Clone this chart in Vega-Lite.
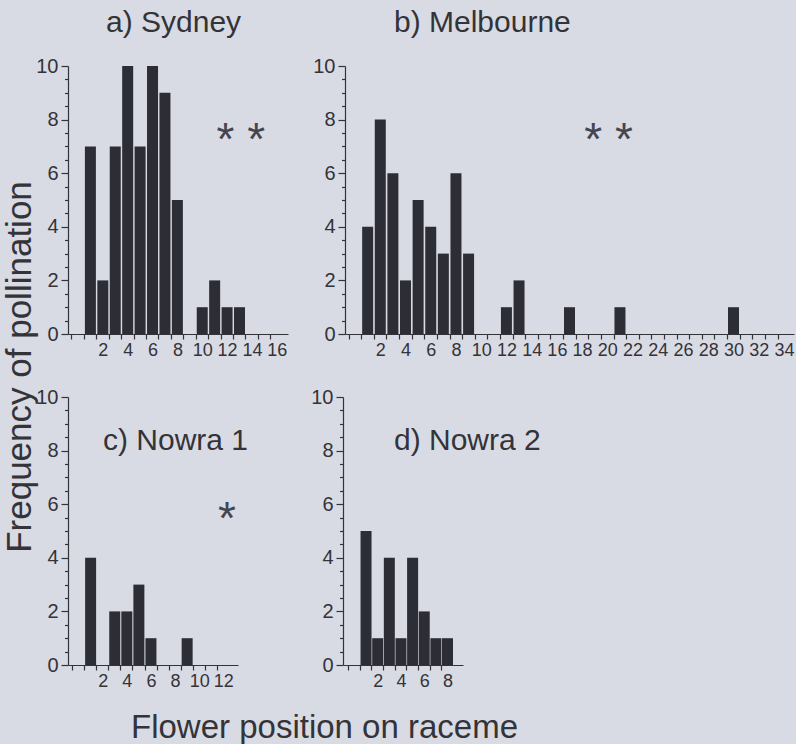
{
  "$schema": "https://vega.github.io/schema/vega-lite/v6.json",
  "background": "#d9dbe4",
  "padding": {"left": 2, "top": 8, "right": 2, "bottom": 4},
  "datasets": {
    "sydney": [
      {"position": 1, "frequency": 7}, {"position": 2, "frequency": 2}, {"position": 3, "frequency": 7},
      {"position": 4, "frequency": 10}, {"position": 5, "frequency": 7}, {"position": 6, "frequency": 10},
      {"position": 7, "frequency": 9}, {"position": 8, "frequency": 5}, {"position": 9, "frequency": 0},
      {"position": 10, "frequency": 1}, {"position": 11, "frequency": 2}, {"position": 12, "frequency": 1},
      {"position": 13, "frequency": 1}
    ],
    "melbourne": [
      {"position": 1, "frequency": 4}, {"position": 2, "frequency": 8}, {"position": 3, "frequency": 6},
      {"position": 4, "frequency": 2}, {"position": 5, "frequency": 5}, {"position": 6, "frequency": 4},
      {"position": 7, "frequency": 3}, {"position": 8, "frequency": 6}, {"position": 9, "frequency": 3},
      {"position": 12, "frequency": 1}, {"position": 13, "frequency": 2}, {"position": 17, "frequency": 1},
      {"position": 21, "frequency": 1}, {"position": 30, "frequency": 1}
    ],
    "nowra1": [
      {"position": 1, "frequency": 4}, {"position": 3, "frequency": 2}, {"position": 4, "frequency": 2},
      {"position": 5, "frequency": 3}, {"position": 6, "frequency": 1}, {"position": 9, "frequency": 1}
    ],
    "nowra2": [
      {"position": 1, "frequency": 5}, {"position": 2, "frequency": 1}, {"position": 3, "frequency": 4},
      {"position": 4, "frequency": 1}, {"position": 5, "frequency": 4}, {"position": 6, "frequency": 2},
      {"position": 7, "frequency": 1}, {"position": 8, "frequency": 1}
    ]
  },
  "config": {
    "font": "Liberation Sans",
    "view": {"stroke": null},
    "axis": {
      "grid": false, "domainColor": "#333338", "tickColor": "#333338", "labelColor": "#333338",
      "titleColor": "#333338", "labelFont": "Liberation Sans", "titleFont": "Liberation Sans",
      "titleFontWeight": "normal", "domainWidth": 1.2, "tickWidth": 1.2,
      "labelOverlap": false
    },
    "title": {"font": "Liberation Sans", "fontSize": 30, "fontWeight": "normal", "color": "#333338", "baseline": "alphabetic", "frame": "group"}
  },
  "title": {"text": "Frequency of pollination", "orient": "left", "anchor": "middle", "frame": "bounds", "fontSize": 35, "offset": -2, "dx": 9},
  "spacing": 28,
  "vconcat": [
    {
      "bounds": "flush",
      "spacing": 57,
      "hconcat": [
        {
          "width": 220, "height": 268,
          "title": {"text": "a) Sydney", "anchor": "start", "dx": 38, "offset": 18},
          "resolve": {"axis": {"x": "independent", "y": "independent"}},
          "layer": [
            {
              "data": {"name": "sydney"},
              "mark": {"type": "bar", "width": 11, "color": "#2d2d36"},
              "encoding": {
                "x": {"field": "position", "type": "quantitative",
                  "scale": {"domain": [-0.4, 16.5], "nice": false, "zero": false},
                  "axis": {"title": null, "orient": "bottom", "values": [0,1,2,3,4,5,6,7,8,9,10,11,12,13,14,15,16],
                    "tickOffset": -6.5, "labelOffset": 6.5, "tickSize": 5, "labelPadding": 2, "labelFontSize": 18,
                    "labelOverlap": false, "labelFlush": false,
                    "labelExpr": "datum.value > 0 && datum.value % 2 === 0 ? format(datum.value, 'd') : ''"}},
                "y": {"field": "frequency", "type": "quantitative",
                  "scale": {"domain": [0, 10], "nice": false},
                  "axis": {"title": null, "orient": "left",
                    "values": [0,0.5,1,1.5,2,2.5,3,3.5,4,4.5,5,5.5,6,6.5,7,7.5,8,8.5,9,9.5,10],
                    "tickSize": {"condition": {"test": "datum.value % 2 === 0", "value": 7}, "value": 3.5},
                    "labelPadding": 3, "labelFontSize": 20, "labelOverlap": false, "labelFlush": false,
                    "labelExpr": "datum.value % 2 === 0 ? format(datum.value, 'd') : ''"}}
              }
            },
            {
              "data": {"values": [{"label": "* *"}]},
              "mark": {"type": "text", "fontSize": 46, "color": "#45454f", "baseline": "alphabetic", "align": "center"},
              "encoding": {
                "x": {"datum": 13.1, "axis": null},
                "y": {"datum": 6.67, "axis": null},
                "text": {"field": "label"}}
            }
          ]
        },
        {
          "width": 449, "height": 268,
          "title": {"text": "b) Melbourne", "anchor": "start", "dx": 49, "offset": 18},
          "resolve": {"axis": {"x": "independent", "y": "independent"}},
          "layer": [
            {
              "data": {"name": "melbourne"},
              "mark": {"type": "bar", "width": 11, "color": "#2d2d36"},
              "encoding": {
                "x": {"field": "position", "type": "quantitative",
                  "scale": {"domain": [-0.4, 34.4], "nice": false, "zero": false},
                  "axis": {"title": null, "orient": "bottom", "values": [0,1,2,3,4,5,6,7,8,9,10,11,12,13,14,15,16,17,18,19,20,21,22,23,24,25,26,27,28,29,30,31,32,33,34],
                    "tickOffset": -6.45, "labelOffset": 6.45, "tickSize": 5, "labelPadding": 2, "labelFontSize": 18,
                    "labelOverlap": false, "labelFlush": false,
                    "labelExpr": "datum.value > 0 && datum.value % 2 === 0 ? format(datum.value, 'd') : ''"}},
                "y": {"field": "frequency", "type": "quantitative",
                  "scale": {"domain": [0, 10], "nice": false},
                  "axis": {"title": null, "orient": "left",
                    "values": [0,0.5,1,1.5,2,2.5,3,3.5,4,4.5,5,5.5,6,6.5,7,7.5,8,8.5,9,9.5,10],
                    "tickSize": {"condition": {"test": "datum.value % 2 === 0", "value": 7}, "value": 3.5},
                    "labelPadding": 3, "labelFontSize": 20, "labelOverlap": false, "labelFlush": false,
                    "labelExpr": "datum.value % 2 === 0 ? format(datum.value, 'd') : ''"}}
              }
            },
            {
              "data": {"values": [{"label": "* *"}]},
              "mark": {"type": "text", "fontSize": 46, "color": "#45454f", "baseline": "alphabetic", "align": "center"},
              "encoding": {
                "x": {"datum": 20.1, "axis": null},
                "y": {"datum": 6.67, "axis": null},
                "text": {"field": "label"}}
            }
          ]
        }
      ]
    },
    {
      "bounds": "flush",
      "spacing": 105,
      "hconcat": [
        {
          "width": 170, "height": 268,
          "title": {"text": "c) Nowra 1", "anchor": "start", "dx": 35, "offset": -69},
          "resolve": {"axis": {"x": "independent", "y": "independent"}},
          "layer": [
            {
              "data": {"name": "nowra1"},
              "mark": {"type": "bar", "width": 11, "color": "#2d2d36"},
              "encoding": {
                "x": {"field": "position", "type": "quantitative",
                  "scale": {"domain": [-0.46, 12.8], "nice": false, "zero": false},
                  "axis": {"title": "Flower position on raceme", "orient": "bottom", "titleFontSize": 33, "titleX": 256, "titleY": 72,
                    "titleBaseline": "alphabetic",
                    "values": [0,1,2,3,4,5,6,7,8,9,10,11,12],
                    "tickOffset": -6.4, "labelOffset": 6.4, "tickSize": 5, "labelPadding": 2, "labelFontSize": 18,
                    "labelOverlap": false, "labelFlush": false,
                    "labelExpr": "datum.value > 0 && datum.value % 2 === 0 ? format(datum.value, 'd') : ''"}},
                "y": {"field": "frequency", "type": "quantitative",
                  "scale": {"domain": [0, 10], "nice": false},
                  "axis": {"title": null, "orient": "left",
                    "values": [0,0.5,1,1.5,2,2.5,3,3.5,4,4.5,5,5.5,6,6.5,7,7.5,8,8.5,9,9.5,10],
                    "tickSize": {"condition": {"test": "datum.value % 2 === 0", "value": 7}, "value": 3.5},
                    "labelPadding": 3, "labelFontSize": 20, "labelOverlap": false, "labelFlush": false,
                    "labelExpr": "datum.value % 2 === 0 ? format(datum.value, 'd') : ''"}}
              }
            },
            {
              "data": {"values": [{"label": "*"}]},
              "mark": {"type": "text", "fontSize": 46, "color": "#45454f", "baseline": "alphabetic", "align": "center"},
              "encoding": {
                "x": {"datum": 12.3, "axis": null},
                "y": {"datum": 4.87, "axis": null},
                "text": {"field": "label"}}
            }
          ]
        },
        {
          "width": 120, "height": 268,
          "title": {"text": "d) Nowra 2", "anchor": "start", "dx": 51, "offset": -69},
          "layer": [
            {
              "data": {"name": "nowra2"},
              "mark": {"type": "bar", "width": 11, "color": "#2d2d36"},
              "encoding": {
                "x": {"field": "position", "type": "quantitative",
                  "scale": {"domain": [-0.55, 8.9], "nice": false, "zero": false},
                  "axis": {"title": null, "values": [0,1,2,3,4,5,6,7,8],
                    "tickOffset": -6.35, "labelOffset": 6.35, "tickSize": 5, "labelPadding": 2, "labelFontSize": 18,
                    "labelOverlap": false, "labelFlush": false,
                    "labelExpr": "datum.value > 0 && datum.value % 2 === 0 ? format(datum.value, 'd') : ''"}},
                "y": {"field": "frequency", "type": "quantitative",
                  "scale": {"domain": [0, 10], "nice": false},
                  "axis": {"title": null,
                    "values": [0,0.5,1,1.5,2,2.5,3,3.5,4,4.5,5,5.5,6,6.5,7,7.5,8,8.5,9,9.5,10],
                    "tickSize": {"condition": {"test": "datum.value % 2 === 0", "value": 7}, "value": 3.5},
                    "labelPadding": 3, "labelFontSize": 20, "labelOverlap": false, "labelFlush": false,
                    "labelExpr": "datum.value % 2 === 0 ? format(datum.value, 'd') : ''"}}
              }
            }
          ]
        }
      ]
    }
  ]
}
